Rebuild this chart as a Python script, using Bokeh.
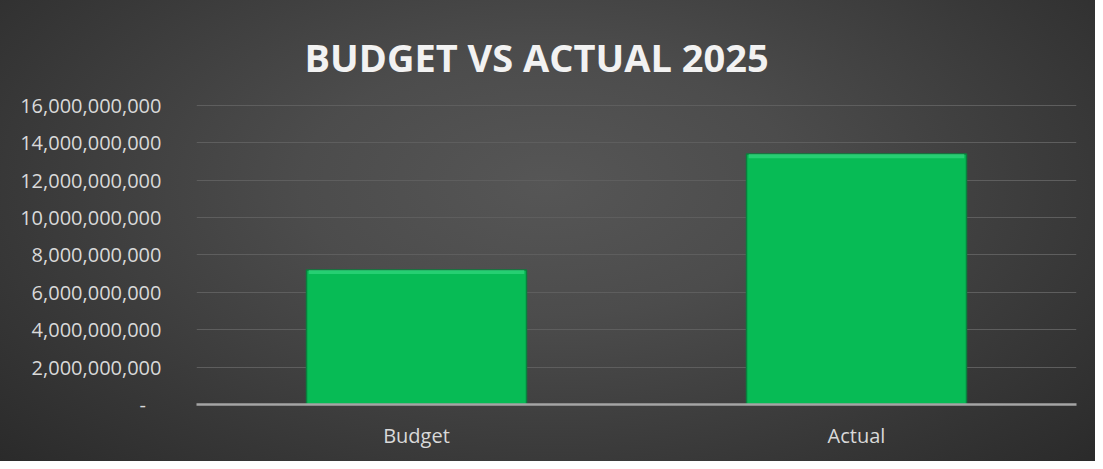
from bokeh.plotting import figure
from bokeh.models import (ColumnDataSource, FactorRange, Range1d, FixedTicker,
                          NumeralTickFormatter, InlineStyleSheet)
from bokeh.embed import file_html
from bokeh.resources import INLINE

# ---- data ----
categories = ["Budget", "Actual"]
amounts = [7.2e9, 13.4e9]
y_ticks = [0, 2e9, 4e9, 6e9, 8e9, 10e9, 12e9, 14e9, 16e9]
title_text = "BUDGET VS ACTUAL 2025"

bevel = 0.22e9
source = ColumnDataSource(data=dict(cat=categories, amount=amounts,
                                    bevel_bottom=[a - bevel for a in amounts]))

p = figure(width=1095, height=461, output_backend="svg", toolbar_location=None,
           x_range=FactorRange(factors=categories), y_range=Range1d(0, 16.05e9),
           min_border_left=196, min_border_right=19, min_border_top=104,
           min_border_bottom=57)

p.background_fill_alpha = 0
p.border_fill_alpha = 0
p.outline_line_color = None
p.stylesheets = [InlineStyleSheet(css=""":host {
  background: radial-gradient(ellipse 75% 95% at 50% 40%, #565656 0%, #4c4c4c 30%, #363636 70%, #262626 100%);
}""")]

p.title.text = title_text
p.title.align = "left"
p.title.vertical_align = "top"
p.title.offset = 108
p.title.text_font = "Open Sans"
p.title.text_font_style = "bold"
p.title.text_font_size = "38px"
p.title.text_color = "#f2f2f2"
p.title.standoff = 40

p.vbar(x="cat", top="amount", width=0.5, source=source,
       fill_color="#07bb55", line_color="#0a7f3d", line_width=1.5)
p.vbar(x="cat", top="amount", bottom="bevel_bottom", width=0.49, source=source,
       fill_color="#3fe08a", fill_alpha=0.55, line_color=None)

# axes
p.yaxis.ticker = FixedTicker(ticks=y_ticks)
p.yaxis.formatter = NumeralTickFormatter(format="0,0")
p.yaxis.major_label_overrides = {0: "-\u00a0\u00a0\u00a0"}
p.yaxis.axis_line_color = None
p.yaxis.major_tick_line_color = None
p.yaxis.minor_tick_line_color = None
p.yaxis.major_label_standoff = 29
p.yaxis.major_label_text_font = "Open Sans"
p.yaxis.major_label_text_font_size = "20px"
p.yaxis.major_label_text_color = "#d9d9d9"

p.xaxis.axis_line_color = "#a5a5a5"
p.xaxis.axis_line_width = 2.5
p.xaxis.major_tick_line_color = None
p.xaxis.minor_tick_line_color = None
p.xaxis.major_label_standoff = 11
p.xaxis.major_label_text_font = "Open Sans"
p.xaxis.major_label_text_font_size = "20px"
p.xaxis.major_label_text_color = "#d9d9d9"

p.xgrid.grid_line_color = None
p.ygrid.grid_line_color = "#5e5e5e"
p.ygrid.grid_line_width = 1

open("out.html", "w").write(file_html(p, INLINE))
